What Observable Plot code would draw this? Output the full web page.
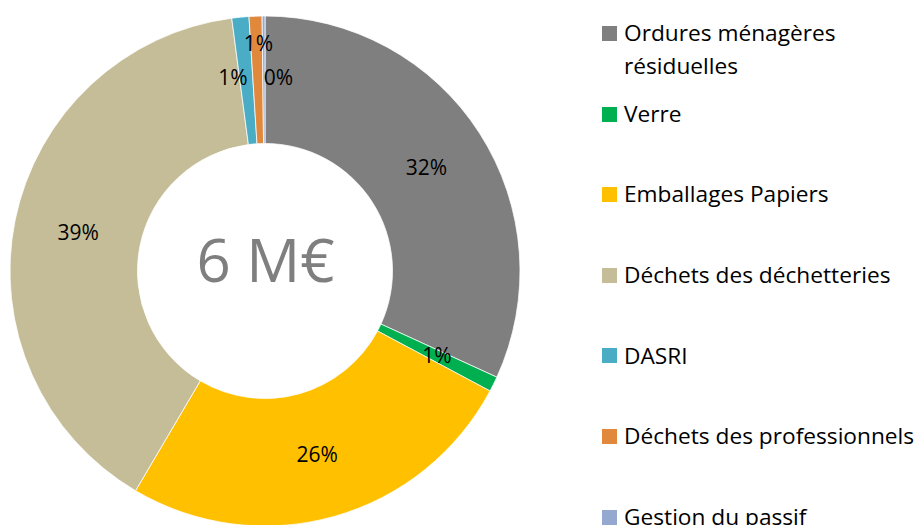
<!DOCTYPE html>
<html><head><meta charset="utf-8">
<script src="https://cdn.jsdelivr.net/npm/d3@7"></script>
<script src="https://cdn.jsdelivr.net/npm/@observablehq/plot@0.6"></script>
<style>
body{margin:0;background:#fff;font-family:"Open Sans",sans-serif;}
#wrap{position:relative;width:920px;height:525px;overflow:hidden;}
#chart{position:absolute;left:0;top:0;}
#legend{position:absolute;left:602px;top:0;width:318px;height:525px;}
.item{position:absolute;left:0;display:flex;align-items:flex-start;}
.sw{width:15px;height:15px;margin-top:9.8px;margin-right:7px;flex:none;}
.lab{font-size:22.7px;line-height:33px;color:#000;width:300px;}
</style></head><body><div id="wrap"><div id="chart"></div><div id="legend"></div></div>
<script>
const categories = ["Ordures ménagères résiduelles","Verre","Emballages Papiers","Déchets des déchetteries","DASRI","Déchets des professionnels","Gestion du passif"];
const values = [31.8, 0.96, 25.65, 39.4, 1.08, 0.82, 0.18];
const colors = ["#7f7f7f","#00b050","#ffc000","#c4bd97","#4bacc6","#e0883c","#95a9d0"];
const centerLabel = "6 M€";

const data = categories.map((c, i) => ({category: c, value: values[i], i}));
const total = d3.sum(values);
const innerRatio = 0.5;
const color = d3.scaleOrdinal().domain(categories).range(colors);
const arcs = d3.pie().sort(null).value(d => d.value)(data);
const labels = arcs.map(a => {
  const mid = (a.startAngle + a.endAngle) / 2;
  const r = (1 + innerRatio) / 2;
  return {i: a.data.i, x: r * Math.sin(mid), y: r * Math.cos(mid), text: Math.round(a.data.value / total * 100) + "%"};
});

function donut(index, scales) {
  const cx = scales.x(0), cy = scales.y(0);
  const R = scales.x(1) - cx;
  const arc = d3.arc().innerRadius(R * innerRatio).outerRadius(R);
  const g = d3.create("svg:g").attr("transform", `translate(${cx},${cy})`);
  g.selectAll("path").data(arcs).join("path")
    .attr("d", arc)
    .attr("fill", d => color(d.data.category))
    .attr("stroke", "#fff").attr("stroke-width", 0.75);
  return g.node();
}

const txt = {x: "x", y: "y", text: "text", fontSize: 21, fill: "#000"};
const chart = Plot.plot({
  width: 530, height: 525, margin: 0,
  style: {fontFamily: "'Open Sans', sans-serif", background: "transparent"},
  x: {domain: [-1, 1], range: [10, 520], axis: null},
  y: {domain: [-1, 1], range: [526, 16], axis: null},
  marks: [
    donut,
    Plot.text(labels, {...txt, filter: d => d.i < 4}),
    Plot.text(labels, {...txt, filter: d => d.i === 4, dx: -14, dy: -3}),
    Plot.text(labels, {...txt, filter: d => d.i === 5, dy: -36}),
    Plot.text(labels, {...txt, filter: d => d.i === 6, dx: 14, dy: -2}),
    Plot.text([centerLabel], {x: () => 0, y: () => 0, text: d => d, fontSize: 60, fill: "#7f7f7f", dy: -9})
  ]
});
document.getElementById("chart").append(chart);

const legend = d3.select("#legend");
categories.forEach((c, i) => {
  const center = 33.5 + 80.6 * i;
  const item = legend.append("div").attr("class", "item").style("top", (center - 17.3) + "px");
  item.append("div").attr("class", "sw").style("background", color(c));
  item.append("div").attr("class", "lab").text(c);
});
</script>
</body></html>
